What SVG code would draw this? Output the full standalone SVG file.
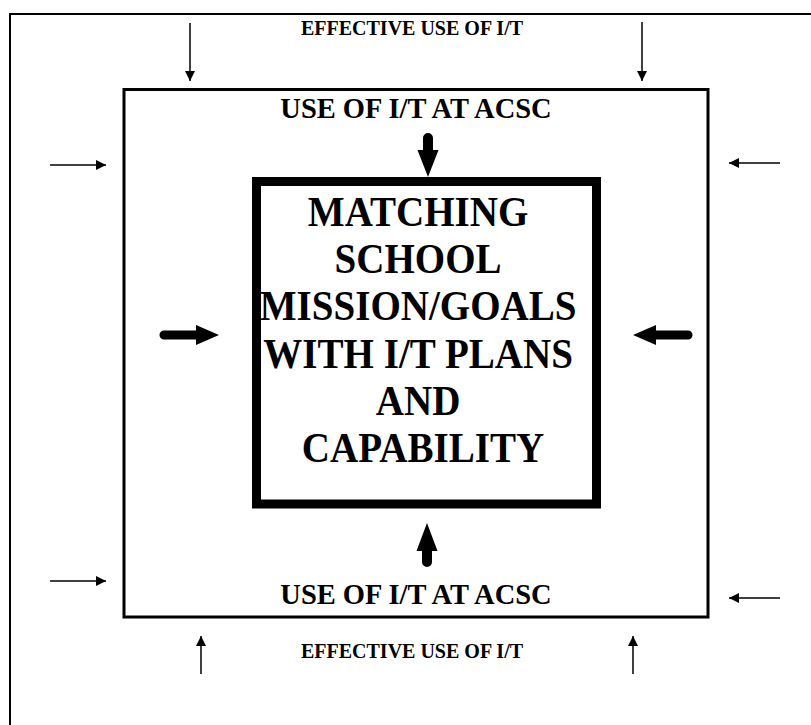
<svg xmlns="http://www.w3.org/2000/svg" width="811" height="725" viewBox="0 0 811 725">
<defs>
<style>
.t{font-family:"Liberation Serif","Times New Roman",serif;font-weight:bold;fill:#000;text-anchor:middle}
.thin{stroke:#000;stroke-width:1.5;fill:none}
.thick{fill:#000;stroke:none}
</style>
<marker id="ah" viewBox="0 0 10 10" refX="10" refY="5" markerWidth="10" markerHeight="10" markerUnits="userSpaceOnUse" orient="auto">
<path d="M0,0 L10,5 L0,10 Z" fill="#000"/>
</marker>
</defs>
<rect width="811" height="725" fill="#fff"/>
<g id="frame"><path d="M10,725 V14 H811" fill="none" stroke="#000" stroke-width="2"/></g>
<g id="outer-label-top"><text class="t" x="412" y="35" font-size="20">EFFECTIVE USE OF I/T</text></g>
<g id="outer-label-bottom"><text class="t" x="412" y="658" font-size="20">EFFECTIVE USE OF I/T</text></g>
<g id="middle">
<rect x="124" y="89.5" width="584" height="527.5" fill="none" stroke="#000" stroke-width="3"/>
<text class="t" x="416" y="118" font-size="28.5">USE OF I/T AT ACSC</text>
<text class="t" x="416" y="604" font-size="28.5">USE OF I/T AT ACSC</text>
</g>
<g id="inner">
<rect x="256.5" y="181.5" width="340" height="322.5" fill="none" stroke="#000" stroke-width="9"/>
<g transform="translate(423,0) scale(0.93,1)">
<text class="t" font-size="42">
<tspan x="0" y="226">MATCHING</tspan>
<tspan x="0" y="273">SCHOOL</tspan>
<tspan x="0" y="320">MISSION/GOALS</tspan>
<tspan x="0" y="368">WITH I/T PLANS</tspan>
<tspan x="0" y="415">AND</tspan>
<tspan x="0" y="462">CAPABILITY</tspan>
</text>
</g>
</g>
<g id="connectors">
<line class="thin" x1="190" y1="23" x2="190" y2="81" marker-end="url(#ah)"/>
<line class="thin" x1="642" y1="22" x2="642" y2="81" marker-end="url(#ah)"/>
<line class="thin" x1="50" y1="165" x2="106" y2="165" marker-end="url(#ah)"/>
<line class="thin" x1="780" y1="163" x2="729" y2="163" marker-end="url(#ah)"/>
<line class="thin" x1="50" y1="581" x2="106" y2="581" marker-end="url(#ah)"/>
<line class="thin" x1="780" y1="598" x2="729" y2="598" marker-end="url(#ah)"/>
<line class="thin" x1="201" y1="674" x2="201" y2="636" marker-end="url(#ah)"/>
<line class="thin" x1="633" y1="674" x2="633" y2="636" marker-end="url(#ah)"/>
<path class="thick" d="M423,138 a5,5 0 0 1 10,0 V150 H438.5 L428,177 L417.5,150 H423 Z"/>
<path class="thick" d="M422,562 a5,5 0 0 0 10,0 V551 H437.5 L427,523 L416.5,551 H422 Z"/>
<path class="thick" d="M164,330.5 a4.5,4.5 0 0 0 0,9 H196 V345 L219,335 L196,325 V330.5 Z"/>
<path class="thick" d="M688,330.5 a4.5,4.5 0 0 1 0,9 H656 V345 L633,335 L656,325 V330.5 Z"/>
</g>
</svg>
